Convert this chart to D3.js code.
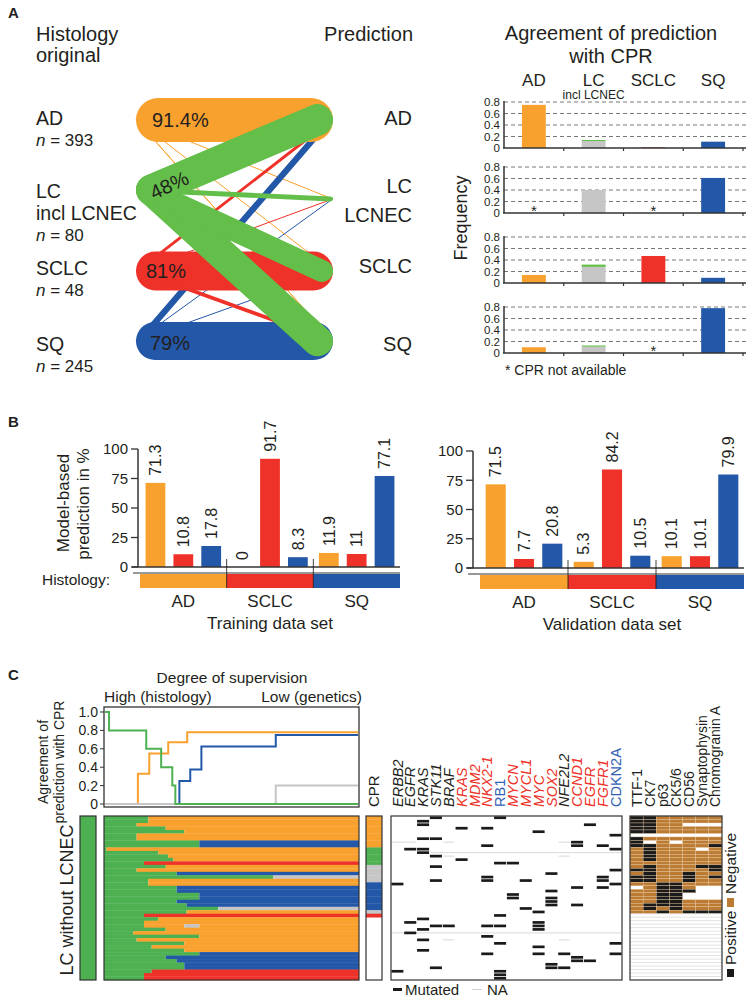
<!DOCTYPE html>
<html><head><meta charset="utf-8">
<script src="https://cdn.jsdelivr.net/npm/d3@7"></script>
<style>
body{margin:0;background:#fff}
svg{display:block}
text{font-family:"Liberation Sans",Arial,Helvetica,sans-serif;fill:#231f20}
</style>
</head><body>
<svg id="c" width="751" height="1001"></svg>
<script>
// ================= DATA =================
// Panel A (left): histology -> prediction flows
const histCats = ["AD","LC","SCLC","SQ"];
const histN = [393, 80, 48, 245];
const histLabels = [["AD"],["LC","incl LCNEC"],["SCLC"],["SQ"]];
const predLabels = [["AD"],["LC","LCNEC"],["SCLC"],["SQ"]];
const selfPct = ["91.4%","48%","81%","79%"];
// [from, to, relative weight] – drawn in this order
const flowFrom = ["AD","AD","AD","AD","SCLC","SQ","SQ","SQ","SCLC","AD","SCLC","SQ","SCLC","LC","LC","LC","LC"];
const flowTo   = ["LC","SCLC","SQ","SQ","LC","LC","SCLC","AD","AD","AD","SCLC","SQ","SQ","LC","SQ","SCLC","AD"];
const flowVal  = [1.2, 1.2, 1.2, 1.5, 1.5, 1.5, 1.5, 13, 6, 91.4, 81, 79, 8, 10, 64, 46, 66];

// Panel A (right): agreement of prediction with CPR
const agreeCats = ["AD","LC","SCLC","SQ"];
const agreeMain  = [[0.75,0.12,0.01,0.11],[null,0.40,null,0.61],[0.14,0.28,0.47,0.09],[0.10,0.11,null,0.78]];
const agreeLCNEC = [[0,0.02,0,0],[0,0,0,0],[0,0.04,0,0],[0,0.02,0,0]];
const freqTicks = [0,0.2,0.4,0.6,0.8];

// Panel B
const groups = ["AD","SCLC","SQ"];
const predCats = ["AD","SCLC","SQ"];
const trainValues = [[71.3,10.8,17.8],[0,91.7,8.3],[11.9,11,77.1]];
const validValues = [[71.5,7.7,20.8],[5.3,84.2,10.5],[10.1,10.1,79.9]];
const pctTicks = [0,25,50,75,100];

// Panel C: agreement curves vs degree of supervision (0 = high, 100 = low)
const lineOrange = [[0,0],[13,0.33],[17.5,0.55],[25,0.67],[32.5,0.78]];
const lineBlue   = [[0,0],[29.4,0.25],[33.7,0.375],[38.1,0.625],[67.5,0.75]];
const lineGray   = [[0,0],[67.5,0.2]];
const lineGreen  = [[0,1.0],[1.6,0.8],[16.3,0.6],[22.2,0.4],[26.6,0.2],[27.8,0]];
const agreeTicks = [0,0.2,0.4,0.6,0.8,1.0];

// Panel C heatmap rows: segments [class, end position]
const heatRows = [
 [["G",17.4],["O",100]],[["G",17.4],["O",100]],[["G",12.8],["O",100]],[["G",24.2],["O",100]],
 [["G",31.5],["O",100]],[["G",12.8],["O",100]],[["G",12.8],["O",100]],[["G",37.4],["B",100]],
 [["G",37.4],["B",100]],[["G",1],["O",100]],[["G",21.3],["O",100]],[["G",25.2],["O",100]],
 [["G",27.2],["O",100]],[["G",15.7],["R",100]],[["G",24.2],["O",100]],[["G",12.8],["O",100]],
 [["G",28.5],["B",100]],[["G",66.4],["N",100]],[["G",17.4],["O",100]],[["G",17.4],["O",100]],
 [["G",28.5],["B",100]],[["G",28.5],["B",100]],[["G",37.4],["B",100]],[["G",37.4],["B",100]],
 [["G",28.5],["B",100]],[["G",32.4],["B",100]],[["G",44.8],["N",100]],[["G",32.4],["O",100]],
 [["G",15.7],["R",100]],[["G",21.3],["O",100]],[["G",15.7],["O",100]],[["G",15.7],["O",31.5],["N",37.4],["O",100]],
 [["G",24.2],["O",100]],[["G",11.5],["O",100]],[["G",37.4],["O",100]],[["G",12.8],["O",100]],
 [["G",31.5],["O",100]],[["G",18.7],["O",100]],[["G",31.5],["O",100]],[["G",37.4],["B",100]],
 [["G",24.2],["B",100]],[["G",28.5],["B",100]],[["G",31.5],["B",100]],[["G",31.5],["B",100]],
 [["G",18.7],["R",100]],[["G",15.7],["R",100]],[["G",15.7],["R",100]]
];
const cprRows = ["O","O","O","O","O","O","O","O","O","G","G","G","G","G","N","N","N","N","N",
 "B","B","B","B","B","B","B","B","N","R",null,null,null,null,null,null,null,null,null,null,null,null,null,null,null,null,null,null];

const genes = ["ERBB2","EGFR","KRAS","STK11","BRAF","KRAS","MDM2","NKX2-1","RB1","MYCN","MYCL1","MYC","SOX2","NFE2L2","CCND1","EGFR","FGFR1","CDKN2A"];
const geneType = ["m","m","m","m","m","a","a","a","d","a","a","a","a","m","a","a","a","d"];
// mutated cells [row, gene column]
const mutCells = [[0,3],[0,8],[1,2],[2,2],[2,15],[3,5],[3,7],[4,11],[5,17],[6,2],[6,3],[7,14],[8,14],[8,7],[8,16],
 [9,17],[9,1],[9,2],[10,2],[11,3],[12,5],[13,8],[13,9],[14,3],[15,17],[16,12],[17,7],[17,16],[18,3],[18,7],[18,10],
 [18,16],[19,0],[19,17],[20,14],[20,16],[21,12],[22,9],[23,9],[23,12],[24,12],[25,12],[25,14],[26,10],[27,11],[28,8],
 [29,2],[30,1],[30,11],[31,3],[31,4],[31,7],[31,8],[31,11],[32,2],[32,11],[33,1],[34,7],[35,2],[36,8],[36,17],[37,11],
 [38,2],[39,7],[39,11],[39,13],[39,17],[40,14],[41,14],[41,15],[42,12],[43,12],[43,13],[43,3],[44,0],[44,8],[45,8],[46,8]];
// NA runs [row, first column, last column]
const naRuns = [[7,0,1],[7,4,4],[7,13,14],[10,3,17],[11,4,4],[11,13,13],[33,0,17],[35,4,4],[35,13,13]];

const ihcMarkers = ["TTF-1","CK7","p63","CK5/6","CD56","Synaptophysin","Chromogranin A"];
// P = positive, N = negative, - = not available
const ihcRows = ["PPNNNNN","PPNNNNN","PPNN---","PPNNNNN","PPNNNNN","-------","PNNNNNN","P-N-NNN",
 "PPNNNNP","NPNNN-N","NPNNNNN","NPNNNNN","NPNNNNN","NNNNNNN","NPNNNPP","PPNNNNP","NPNNPNN","PPNNPNP",
 "PPNNPNN","NNPPNNN","-NPPN--","NNPPP--","NNPP---","NNPP---","NNPPNNN","NPPPNNN","NPNPNNN","NNPNPPP"];

// ================= DRAW =================
const svg = d3.select("#c");
const COL = {AD:"#F9A12E", LC:"#63BE4A", SCLC:"#EE3229", SQ:"#2357A8",
             G:"#4DB151", O:"#F9A12E", R:"#EE3229", B:"#2357A8", N:"#C6C6C6"};
const BROWN = "#BC7B33", INK = "#231f20";

function T(g, x, y, s, o = {}) {
  const t = g.append("text").attr("x", x).attr("y", y).text(s)
    .attr("font-size", o.size || 16).attr("text-anchor", o.anchor || "start");
  if (o.weight) t.attr("font-weight", o.weight);
  if (o.style) t.attr("font-style", o.style);
  if (o.fill) t.style("fill", o.fill);
  if (o.dy) t.attr("dy", o.dy);
  if (o.rotate != null) t.attr("transform", `rotate(${o.rotate},${x},${y})`);
  return t;
}

// panel letters
T(svg, 8, 18, "A", {size: 15, weight: "bold"});
T(svg, 8, 427, "B", {size: 15, weight: "bold"});
T(svg, 8, 680, "C", {size: 15, weight: "bold"});

// ---------- Panel A left: flows ----------
const gA = svg.append("g");
T(gA, 36, 41, "Histology", {size: 20});
T(gA, 36, 62, "original", {size: 20});
T(gA, 413, 41, "Prediction", {size: 20, anchor: "end"});

const yL = d3.scaleOrdinal().domain(histCats).range([120, 190, 271, 341]);
const yR = d3.scaleOrdinal().domain(histCats).range([120, 199, 271, 341]);
const wS = d3.scaleLinear().domain([0, 100]).range([0, 48]);
const xLeft = 136, xRight = 333;

flowVal.forEach((v, i) => {
  const w = Math.max(1, wS(v));
  gA.append("line")
    .attr("x1", xLeft + w / 2).attr("y1", yL(flowFrom[i]))
    .attr("x2", xRight - w / 2).attr("y2", yR(flowTo[i]))
    .attr("stroke", COL[flowFrom[i]]).attr("stroke-width", w)
    .attr("stroke-linecap", "round");
});

// percentage labels
T(gA, 152, 127, selfPct[0], {size: 20});
T(gA, 154, 200, selfPct[1], {size: 20, rotate: -25});
T(gA, 146, 278, selfPct[2], {size: 20});
T(gA, 150, 350, selfPct[3], {size: 20});

// left labels
const leftBase = [125, 198, 275, 351];
histCats.forEach((c, i) => {
  let y = leftBase[i];
  histLabels[i].forEach((s, j) => { T(gA, 36, y + j * 22, s, {size: 19.5}); });
  const ny = y + (histLabels[i].length - 1) * 22 + 20.5;
  const t = gA.append("text").attr("x", 36).attr("y", ny).attr("font-size", 17);
  t.append("tspan").attr("font-style", "italic").text("n");
  t.append("tspan").text(" = " + histN[i]);
});
const rightBase = [125, 193, 273, 351];
histCats.forEach((c, i) => {
  predLabels[i].forEach((s, j) => { T(gA, 412, rightBase[i] + j * 29, s, {size: 20, anchor: "end"}); });
});

// ---------- Panel A right: agreement bars ----------
const gR = svg.append("g");
T(gR, 611, 40, "Agreement of prediction", {size: 20, anchor: "middle"});
T(gR, 611, 63, "with CPR", {size: 20, anchor: "middle"});
const agX = d3.scaleBand().domain(agreeCats).range([504, 743]).paddingInner(0.6).paddingOuter(0.3);
agreeCats.forEach(c => T(gR, agX(c) + agX.bandwidth() / 2, 86, c, {size: 17, anchor: "middle"}));
T(gR, agX("LC") + agX.bandwidth() / 2, 99, "incl LCNEC", {size: 12, anchor: "middle"});
T(gR, 467, 218, "Frequency", {size: 18, anchor: "middle", rotate: -90});
const agBase = [148, 213, 283, 353];
const agStep = agX.step();
agreeMain.forEach((row, k) => {
  const y = d3.scaleLinear().domain([0, 0.8]).range([agBase[k], agBase[k] - 46]);
  const g = gR.append("g");
  freqTicks.filter(t => t > 0).forEach(t => {
    g.append("line").attr("x1", 504).attr("x2", 746).attr("y1", y(t)).attr("y2", y(t))
      .attr("stroke", "#555").attr("stroke-width", 0.8).attr("stroke-dasharray", "4,3");
  });
  row.forEach((v, i) => {
    const c = agreeCats[i];
    const cx = agX(c) + agX.bandwidth() / 2;
    if (v === null) { T(g, cx, agBase[k] + 3, "*", {size: 15, anchor: "middle"}); return; }
    g.append("rect").attr("x", agX(c)).attr("width", agX.bandwidth())
      .attr("y", y(v)).attr("height", y(0) - y(v)).attr("fill", c === "LC" ? COL.N : COL[c]);
    const e = agreeLCNEC[k][i];
    if (e > 0) g.append("rect").attr("x", agX(c)).attr("width", agX.bandwidth())
      .attr("y", y(v + e)).attr("height", y(v) - y(v + e)).attr("fill", COL.LC);
  });
  g.append("line").attr("x1", 504).attr("x2", 504).attr("y1", y(0)).attr("y2", y(0.8) - 1)
    .attr("stroke", "#333").attr("stroke-width", 1.5);
  g.append("line").attr("x1", 503).attr("x2", 746).attr("y1", y(0)).attr("y2", y(0))
    .attr("stroke", "#333").attr("stroke-width", 1.5);
  [1, 2, 3, 4].forEach(j => g.append("line").attr("x1", 504 + agStep * j).attr("x2", 504 + agStep * j)
    .attr("y1", y(0)).attr("y2", y(0) + 3).attr("stroke", "#333").attr("stroke-width", 1.2));
  freqTicks.forEach(t => T(g, 500, y(t), t === 0 ? "0" : t.toFixed(1), {size: 11.5, anchor: "end", dy: "0.36em"}));
});
T(gR, 505, 375, "* CPR not available", {size: 14});

// ---------- Panel B ----------
function barChart(values, ax, x0, x1, yBase, yTop, title) {
  const g = svg.append("g");
  const y = d3.scaleLinear().domain([0, 100]).range([yBase, yTop]);
  const gx = d3.scaleBand().domain(groups).range([x0, x1]);
  const bx = d3.scaleBand().domain(predCats).range([0, gx.bandwidth()]).paddingInner(0.29).paddingOuter(0.2);
  values.forEach((row, gi) => {
    row.forEach((v, bi) => {
      const x = gx(groups[gi]) + bx(predCats[bi]);
      g.append("rect").attr("x", x).attr("width", bx.bandwidth()).attr("y", y(v))
        .attr("height", y(0) - y(v)).attr("fill", COL[predCats[bi]]);
      const cx = x + bx.bandwidth() / 2, ty = y(v) - 7;
      g.append("text").attr("transform", `translate(${cx},${ty}) rotate(-90)`)
        .attr("dy", "0.36em").attr("font-size", 16).text(String(v));
    });
  });
  // y axis
  g.append("line").attr("x1", ax).attr("x2", ax).attr("y1", yBase).attr("y2", yTop)
    .attr("stroke", "#333").attr("stroke-width", 1.5);
  pctTicks.forEach(t => {
    g.append("line").attr("x1", ax - 7).attr("x2", ax).attr("y1", y(t)).attr("y2", y(t))
      .attr("stroke", "#333").attr("stroke-width", 1.3);
    T(g, ax - 10, y(t), String(t), {size: 15, anchor: "end", dy: "0.36em"});
  });
  // x axis + histology strip
  g.append("line").attr("x1", ax - 6).attr("x2", x1).attr("y1", yBase).attr("y2", yBase)
    .attr("stroke", "#333").attr("stroke-width", 1.6);
  g.append("line").attr("x1", ax - 5).attr("x2", x1).attr("y1", yBase + 6).attr("y2", yBase + 6)
    .attr("stroke", "#333").attr("stroke-width", 1.2);
  groups.forEach(gr => {
    g.append("rect").attr("x", gx(gr)).attr("width", gx.bandwidth()).attr("y", yBase + 7)
      .attr("height", 14).attr("fill", COL[gr]);
    T(g, gx(gr) + gx.bandwidth() / 2, yBase + 40, gr, {size: 17, anchor: "middle"});
  });
  [1, 2].forEach(j => {
    const xx = gx(groups[j]);
    g.append("line").attr("x1", xx).attr("x2", xx).attr("y1", yBase - 8).attr("y2", yBase + 21)
      .attr("stroke", "#111").attr("stroke-width", 0.8);
  });
  T(g, (x0 + x1) / 2, yBase + 62, title, {size: 17, anchor: "middle"});
  return g;
}
barChart(trainValues, 138, 140, 400, 567, 449, "Training data set");
barChart(validValues, 473, 480, 744, 568, 451, "Validation data set");
T(svg, 69, 503, "Model-based", {size: 17, anchor: "middle", rotate: -90});
T(svg, 89, 504, "prediction in %", {size: 17, anchor: "middle", rotate: -90});
T(svg, 110, 585, "Histology:", {size: 15.5, anchor: "end"});

// ---------- Panel C: line chart ----------
const gC = svg.append("g");
T(gC, 232, 683, "Degree of supervision", {size: 15.5, anchor: "middle"});
T(gC, 104, 702, "High (histology)", {size: 15.5});
T(gC, 362, 702, "Low (genetics)", {size: 15.5, anchor: "end"});
const tx = d3.scaleLinear().domain([0, 100]).range([105, 358]);
const ly = d3.scaleLinear().domain([0, 1]).range([804, 712]);
gC.append("rect").attr("x", 104).attr("y", 707).attr("width", 255).attr("height", 100)
  .attr("fill", "none").attr("stroke", "#333").attr("stroke-width", 1.3);
agreeTicks.forEach(t => {
  gC.append("line").attr("x1", 100).attr("x2", 104).attr("y1", ly(t)).attr("y2", ly(t)).attr("stroke", "#333");
  T(gC, 98, ly(t), t === 0 ? "0" : t.toFixed(1), {size: 14, anchor: "end", dy: "0.36em"});
});
const stepLine = d3.line().x(d => tx(d[0])).y(d => ly(d[1])).curve(d3.curveStepAfter);
[[lineOrange, COL.O], [lineBlue, COL.B], [lineGray, COL.N], [lineGreen, COL.G]].forEach(([pts, c]) => {
  const full = pts.concat([[100, pts[pts.length - 1][1]]]);
  gC.append("path").attr("d", stepLine(full)).attr("fill", "none").attr("stroke", c).attr("stroke-width", 2);
});
T(gC, 48, 762, "Agreement of", {size: 14, anchor: "middle", rotate: -90});
T(gC, 64, 762, "prediction with CPR", {size: 14, anchor: "middle", rotate: -90});

// ---------- Panel C: heatmaps ----------
const rowIdx = d3.range(heatRows.length);
const ry = d3.scaleBand().domain(rowIdx).range([816, 980]);
const hTop = 816, hH = 164;
// left green bar
gC.append("rect").attr("x", 80).attr("y", hTop).attr("width", 16).attr("height", hH)
  .attr("fill", COL.G).attr("stroke", "#333").attr("stroke-width", 1.2);
T(gC, 73, 900, "LC without LCNEC", {size: 18, anchor: "middle", rotate: -90});
// main heatmap
const hx = d3.scaleLinear().domain([0, 100]).range([104, 359]);
heatRows.forEach((segs, r) => {
  let s = 0;
  segs.forEach(([cls, e]) => {
    gC.append("rect").attr("x", hx(s)).attr("width", hx(e) - hx(s)).attr("y", ry(r))
      .attr("height", ry.bandwidth() + 0.3).attr("fill", COL[cls]);
    s = e;
  });
});
gC.append("rect").attr("x", 104).attr("y", hTop).attr("width", 255).attr("height", hH)
  .attr("fill", "none").attr("stroke", "#333").attr("stroke-width", 1.2);
// CPR column
cprRows.forEach((c, r) => {
  if (c) gC.append("rect").attr("x", 366).attr("width", 16).attr("y", ry(r))
    .attr("height", ry.bandwidth() + 0.3).attr("fill", COL[c]);
});
gC.append("rect").attr("x", 366).attr("y", hTop).attr("width", 16).attr("height", hH)
  .attr("fill", "none").attr("stroke", "#333").attr("stroke-width", 1.2);
T(gC, 379, 807, "CPR", {size: 15, rotate: -90});

// mutation panel
const mx = d3.scaleBand().domain(d3.range(genes.length)).range([391, 622]);
const gM = svg.append("g");
naRuns.forEach(([r, a, b]) => {
  gM.append("line").attr("x1", mx(a) + 1).attr("x2", mx(b) + mx.bandwidth() - 1)
    .attr("y1", ry(r) + ry.bandwidth() / 2).attr("y2", ry(r) + ry.bandwidth() / 2)
    .attr("stroke", "#cfcfcf").attr("stroke-width", 0.8);
});
mutCells.forEach(([r, c]) => {
  gM.append("rect").attr("x", mx(c) + 0.4).attr("width", mx.bandwidth() - 0.8)
    .attr("y", ry(r) + 0.4).attr("height", ry.bandwidth() - 0.8).attr("fill", "#1a1a1a");
});
gM.append("rect").attr("x", 391).attr("y", hTop).attr("width", 231).attr("height", hH)
  .attr("fill", "none").attr("stroke", "#333").attr("stroke-width", 1.2);
genes.forEach((gname, i) => {
  const col = geneType[i] === "a" ? "#EE3229" : geneType[i] === "d" ? "#2f62b3" : INK;
  const italic = geneType[i] !== "d";
  gM.append("text").attr("transform", `translate(${mx(i) + mx.bandwidth() / 2},807) rotate(-90)`)
    .attr("dy", "0.36em").attr("font-size", 14.5).attr("font-style", italic ? "italic" : null)
    .style("fill", col).text(gname);
});
// legend
gM.append("rect").attr("x", 393).attr("y", 988).attr("width", 9).attr("height", 3).attr("fill", "#1a1a1a");
T(gM, 405, 995, "Mutated", {size: 15});
gM.append("line").attr("x1", 472).attr("x2", 482).attr("y1", 989.5).attr("y2", 989.5).attr("stroke", "#cfcfcf");
T(gM, 487, 995, "NA", {size: 15});

// IHC panel
const ix = d3.scaleBand().domain(d3.range(ihcMarkers.length)).range([630, 722]);
const gI = svg.append("g");
rowIdx.forEach(r => {
  const row = ihcRows[r];
  if (!row) {
    gI.append("line").attr("x1", 630).attr("x2", 722).attr("y1", ry(r)).attr("y2", ry(r))
      .attr("stroke", "#d6d6d6").attr("stroke-width", 0.7);
    return;
  }
  row.split("").forEach((v, c) => {
    if (v === "-") return;
    gI.append("rect").attr("x", ix(c)).attr("width", ix.bandwidth()).attr("y", ry(r))
      .attr("height", ry.bandwidth()).attr("fill", v === "P" ? "#1a1a1a" : BROWN)
      .attr("stroke", "#e8c9a0").attr("stroke-width", 0.35);
  });
});
gI.append("rect").attr("x", 630).attr("y", hTop).attr("width", 92).attr("height", hH)
  .attr("fill", "none").attr("stroke", "#333").attr("stroke-width", 1.2);
ihcMarkers.forEach((m, i) => {
  gI.append("text").attr("transform", `translate(${ix(i) + ix.bandwidth() / 2},807) rotate(-90)`)
    .attr("dy", "0.36em").attr("font-size", 14).text(m);
});
// IHC legend
gI.append("rect").attr("x", 727).attr("y", 969).attr("width", 7).attr("height", 8).attr("fill", "#1a1a1a");
T(gI, 736, 965, "Positive", {size: 15.5, rotate: -90});
gI.append("rect").attr("x", 727).attr("y", 898).attr("width", 7).attr("height", 9).attr("fill", BROWN);
T(gI, 736, 894, "Negative", {size: 15.5, rotate: -90});
</script>
</body></html>
